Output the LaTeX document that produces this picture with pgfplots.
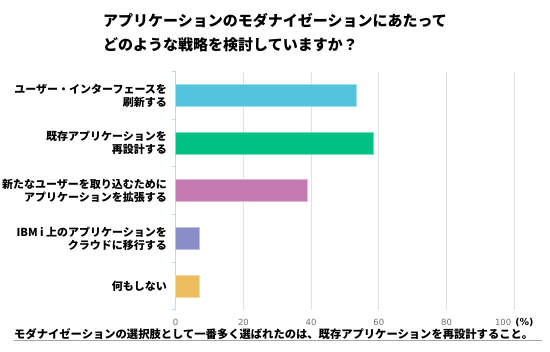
\documentclass[border=0pt]{standalone}
\usepackage{pgfplots}
\pgfplotsset{compat=1.18}
\usepackage{fontspec}
\setmainfont{Noto Sans CJK JP}
\newfontfamily\dejavu{DejaVu Sans}
\definecolor{cA}{HTML}{54C3DC}
\definecolor{cB}{HTML}{00C184}
\definecolor{cC}{HTML}{C57AB1}
\definecolor{cD}{HTML}{898DC8}
\definecolor{cE}{HTML}{EBBD5F}
\definecolor{axiscol}{HTML}{C8D4E3}
\definecolor{gridcol}{HTML}{E0E0E0}
\definecolor{tickcol}{HTML}{707070}
\begin{document}
\begin{tikzpicture}[x=1pt,y=1pt]
\path (0,0) rectangle (550,352);
\node[anchor=west, font=\bfseries\fontsize{15}{18}\selectfont, inner sep=0pt] at (103,331.3) {アプリケーションのモダナイゼーションにあたって};
\node[anchor=west, font=\bfseries\fontsize{15}{18}\selectfont, inner sep=0pt] at (103,307.5) {どのような戦略を検討していますか？};
\begin{axis}[
  at={(175.7pt,42.3pt)}, anchor=south west,
  scale only axis, width=338.6pt, height=238pt,
  xmin=0, xmax=100, ymin=-0.5, ymax=4.5, y dir=reverse,
  xbar, bar width=22pt, bar shift=0pt,
  axis lines*=left,
  x axis line style={draw=none},
  y axis line style={draw=axiscol, line width=0.8pt},
  xtick={0,20,40,60,80,100},
  xticklabels={0,20,40,60,80,{100\hspace{4pt}\textcolor{black}{\fontsize{9.5}{10}\selectfont\bfseries(\%)}}},
  xmajorgrids, major x grid style={draw=gridcol, line width=0.9pt},
  x tick style={draw=none},
  xticklabel style={font=\dejavu\fontsize{8.5}{10}\selectfont, text=tickcol, anchor=base, yshift=-16pt},
  /pgf/number format/assume math mode=true,
  ytick={0,1,2,3,4},
  yticklabels={{ユーザー・インターフェースを\\刷新する},{既存アプリケーションを\\再設計する},{新たなユーザーを取り込むために\\アプリケーションを拡張する},{IBM i 上のアプリケーションを\\クラウドに移行する},{何もしない}},
  yticklabel style={align=right, font=\bfseries\fontsize{11}{13}\selectfont, inner sep=0pt, xshift=-8.5pt},
  major y tick style={draw=none},
  minor ytick={-0.5,0.5,1.5,2.5,3.5,4.5},
  minor y tick style={draw=axiscol, line width=0.8pt},
  tick align=outside,
  minor tick length=4pt,
  major tick length=0pt,
  clip=false,
]
\addplot[fill=cA, draw=cA!55!white, line width=0.6pt] coordinates {(53.2,0)};
\addplot[fill=cB, draw=cB!55!white, line width=0.6pt] coordinates {(58.4,1)};
\addplot[fill=cC, draw=cC!55!white, line width=0.6pt] coordinates {(38.9,2)};
\addplot[fill=cD, draw=cD!55!white, line width=0.6pt] coordinates {(7.1,3)};
\addplot[fill=cE, draw=cE!55!white, line width=0.6pt] coordinates {(7.1,4)};
\end{axis}
\node[anchor=west, font=\bfseries\fontsize{11.3}{13}\selectfont, inner sep=0pt] at (14,18) {モダナイゼーションの選択肢として一番多く選ばれたのは、既存アプリケーションを再設計すること。};
\draw[gray!70, line width=1pt] (14,11.5) -- (542,11.5);
\end{tikzpicture}
\end{document}
